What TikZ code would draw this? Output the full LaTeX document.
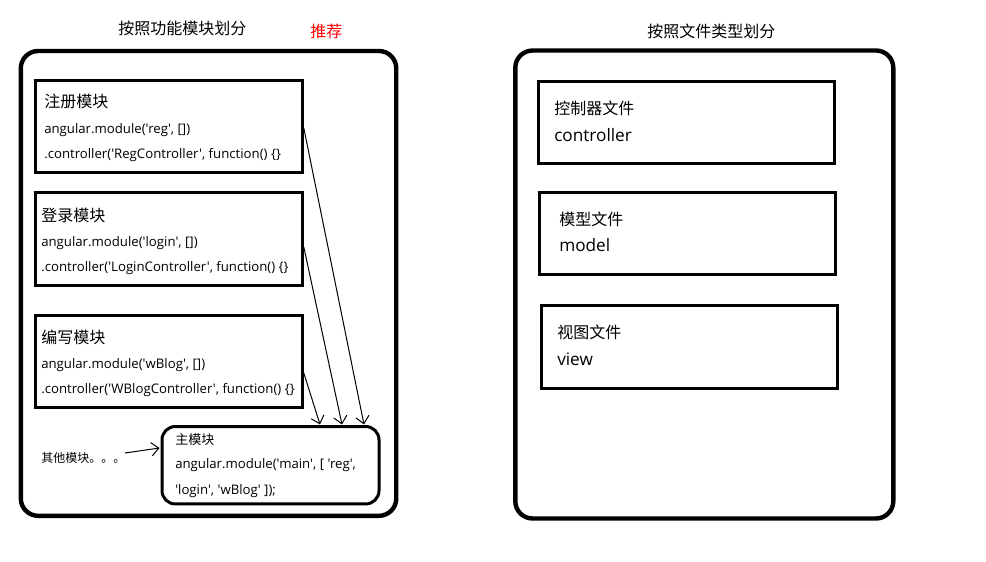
\documentclass[tikz,border=0pt]{standalone}
\usepackage{fontspec}
\setmainfont{Open Sans}[Ligatures=TeXOff]
\newfontfamily\cjk{Noto Sans CJK SC}
\usetikzlibrary{arrows.meta,calc}
\definecolor{tagred}{RGB}{255,0,0}
\begin{document}
\begin{tikzpicture}[x=0.75pt,y=-0.75pt,
  frame/.style={draw, line width=3.3pt, rounded corners=13pt, inner sep=0pt, outer sep=0pt, anchor=north west},
  box/.style={draw, line width=2.25pt, inner sep=0pt, outer sep=0pt, anchor=north west},
  mainbox/.style={draw, line width=2.25pt, rounded corners=10pt, inner sep=0pt, outer sep=0pt, anchor=north west},
  head/.style={inner sep=0pt, anchor=base west, font=\cjk\fontsize{12pt}{14pt}\selectfont},
  code/.style={inner sep=0pt, anchor=base west, font=\fontsize{9.9pt}{12pt}\selectfont},
  word/.style={inner sep=0pt, anchor=base west, font=\fontsize{12.9pt}{15pt}\selectfont},
  arr/.style={line width=0.75pt, -{Straight Barb[length=5.5pt,width=10pt]}}
]
\useasboundingbox (0,0) rectangle (986,561);

% column titles
\node[head] (ttlfunc) at (118,34) {按照功能模块划分};
\node[head, text=tagred] (ttltag) at (310,37) {推荐};
\node[head] (ttltype) at (647,37) {按照文件类型划分};

% outer frames
\node[frame, minimum width=281.6pt, minimum height=348.6pt] (funcframe) at (20.8,51) {};
\node[frame, minimum width=283.5pt, minimum height=351pt] (typeframe) at (515.3,50.5) {};

% feature modules
\node[box, minimum width=200.25pt, minimum height=69.5pt] (reg) at (35.3,80.3) {};
\node[head] (regtitle) at (44,107.5) {注册模块};
\node[code] (regl1) at (44,133) {angular.module('reg', [])};
\node[code] (regl2) at (44,158) {.controller('RegController', function() \{\}};

\node[box, minimum width=200.25pt, minimum height=69.5pt] (login) at (35.3,192.7) {};
\node[head] (logintitle) at (41,221.5) {登录模块};
\node[code] (loginl1) at (41,246) {angular.module('login', [])};
\node[code] (loginl2) at (41,271) {.controller('LoginController', function() \{\}};

\node[box, minimum width=200.25pt, minimum height=69pt] (wblog) at (35.3,315) {};
\node[head] (wblogtitle) at (41,343) {编写模块};
\node[code] (wblogl1) at (41,368) {angular.module('wBlog', [])};
\node[code] (wblogl2) at (41,393) {.controller('WBlogController', function() \{\}};

% main module
\node[mainbox, minimum width=162.75pt, minimum height=58.1pt] (main) at (162,426.5) {};
\node[head, font=\cjk\fontsize{9.75pt}{12pt}\selectfont] (maintitle) at (175,444.5) {主模块};
\node[code] (mainl1) at (175,468) {angular.module('main', [ 'reg',};
\node[code] (mainl2) at (175,494) {'login', 'wBlog' ]);};

\node[head, font=\cjk\fontsize{9pt}{11pt}\selectfont] (other) at (41,462.5) {其他模块。。。};
\coordinate (othertail) at (125,453);

% dependencies into the main module
\draw[arr] ($(reg.north east)+(1.5,47.7)$) -- ($(main.north west)+(202,-2)$);
\draw[arr] ($(login.north east)+(1.5,54.3)$) -- ($(main.north west)+(180,-2)$);
\draw[arr] ($(wblog.north east)+(1.5,58)$) -- ($(main.north west)+(158,-2)$);
\draw[arr] (othertail) -- ($(main.north west)+(-2.5,21.5)$);

% file-type groups
\node[box, minimum width=222pt, minimum height=61.5pt] (ctrl) at (538.3,81.7) {};
\node[head] (ctrltitle) at (554,114) {控制器文件};
\node[word] (ctrlword) at (554,141) {controller};

\node[box, minimum width=222pt, minimum height=61.7pt] (model) at (539.7,192) {};
\node[head] (modeltitle) at (559,225) {模型文件};
\node[word] (modelword) at (559,251) {model};

\node[box, minimum width=222pt, minimum height=62.25pt] (view) at (541,305.3) {};
\node[head] (viewtitle) at (557,338.5) {视图文件};
\node[word] (viewword) at (557,365) {view};
\end{tikzpicture}
\end{document}
